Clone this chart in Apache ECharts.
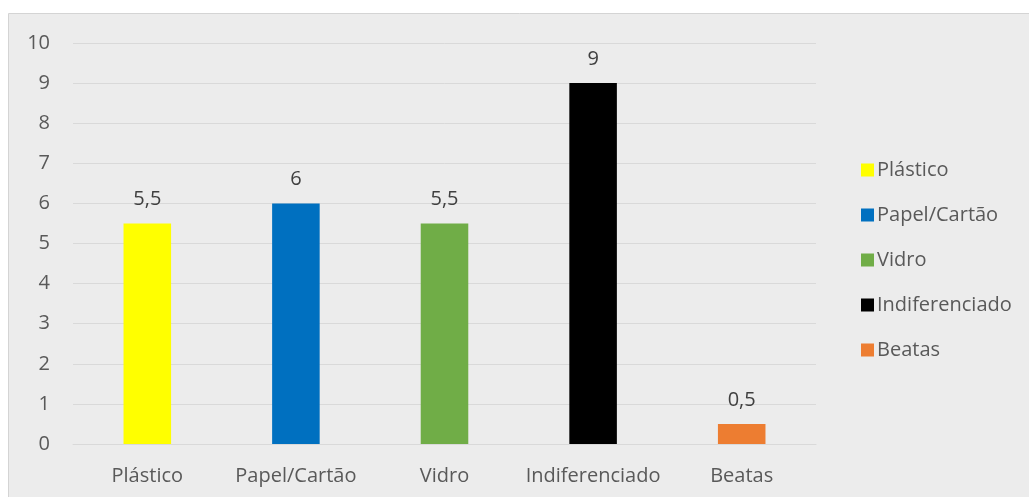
<!DOCTYPE html>
<html><head><meta charset="utf-8">
<script src="https://cdn.jsdelivr.net/npm/echarts@6/dist/echarts.min.js"></script>
<style>html,body{margin:0;padding:0;background:#fff}#c{width:1029px;height:497px}</style>
</head><body><div id="c"></div>
<script>
const categories = ['Plástico', 'Papel/Cartão', 'Vidro', 'Indiferenciado', 'Beatas'];
const values = [5.5, 6, 5.5, 9, 0.5];
const colors = ['#ffff00', '#0070c0', '#70ad47', '#000000', '#ed7d31'];
const yTicks = [0, 10, 1];

const FONT = '"Open Sans", sans-serif';
const FS = 20;
const series = categories.map((name, i) => ({
  name: name,
  type: 'bar',
  stack: 'all',
  barWidth: '32%',
  itemStyle: { color: colors[i] },
  label: {
    show: true, position: 'top', distance: 14,
    color: '#404040', fontFamily: FONT, fontSize: FS,
    formatter: p => String(p.value).replace('.', ',')
  },
  data: categories.map((c, j) => j === i ? values[i] : null)
}));

const chart = echarts.init(document.getElementById('c'), null, { renderer: 'canvas' });
chart.setOption({
  backgroundColor: '#ffffff',
  animation: false,
  graphic: [{
    type: 'rect', z: -10, silent: true,
    shape: { x: 8.5, y: 13.5, width: 1030, height: 500 },
    style: { fill: '#ececec', stroke: '#d4d4d4', lineWidth: 1 }
  }],
  grid: { left: 73, right: 213, top: 43, bottom: 53 },
  legend: {
    orient: 'vertical', left: 856, top: 155,
    itemWidth: 13, itemHeight: 13, itemGap: 25,
    icon: 'rect',
    textStyle: { color: '#595959', fontFamily: FONT, fontSize: FS, lineHeight: 20, padding: [0, 0, 0, -2] },
    data: categories
  },
  xAxis: {
    type: 'category', data: categories,
    axisLine: { show: true, lineStyle: { color: '#d9d9d9', width: 1 } },
    axisTick: { show: false },
    axisLabel: { interval: 0, color: '#595959', fontFamily: FONT, fontSize: FS, margin: 22 }
  },
  yAxis: {
    type: 'value', min: yTicks[0], max: yTicks[1], interval: yTicks[2],
    axisLine: { show: false }, axisTick: { show: false },
    axisLabel: { color: '#595959', fontFamily: FONT, fontSize: FS, margin: 23 },
    splitLine: { lineStyle: { color: '#d9d9d9', width: 1 } }
  },
  series: series
});
</script></body></html>
